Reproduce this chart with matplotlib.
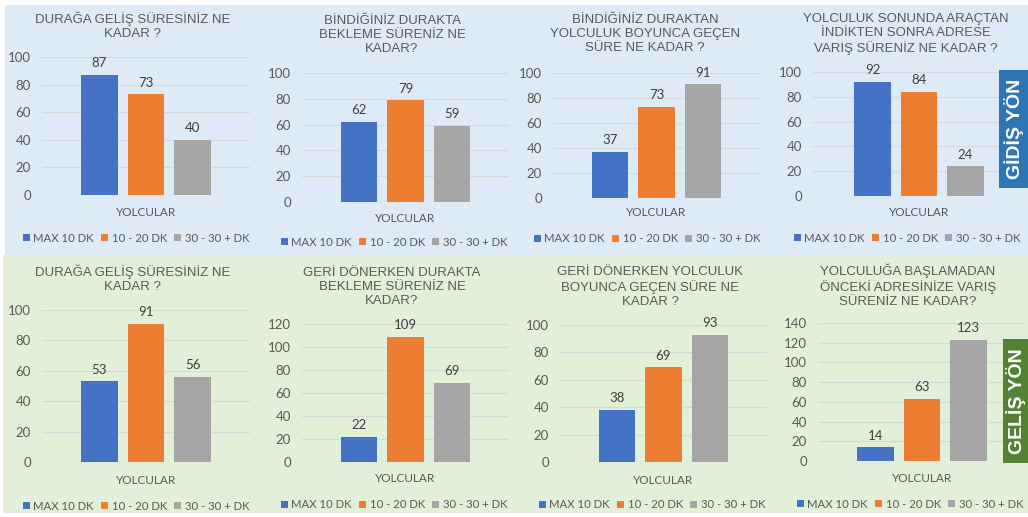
import matplotlib
matplotlib.use("Agg")
import matplotlib.pyplot as plt
from matplotlib.patches import Rectangle, Patch

W, H = 1028, 517

# ---------------- data ----------------
series_labels = ['MAX 10 DK', '10 - 20 DK', '30 - 30 + DK']
category = 'YOLCULAR'
titles = [
    'DURAĞA GELİŞ SÜRESİNİZ NE\nKADAR ?',
    'BİNDİĞİNİZ DURAKTA\nBEKLEME SÜRENİZ NE\nKADAR?',
    'BİNDİĞİNİZ DURAKTAN\nYOLCULUK BOYUNCA GEÇEN\nSÜRE NE KADAR ?',
    'YOLCULUK SONUNDA ARAÇTAN\nİNDİKTEN SONRA ADRESE\nVARIŞ SÜRENİZ NE KADAR ?',
    'DURAĞA GELİŞ SÜRESİNİZ NE\nKADAR ?',
    'GERİ DÖNERKEN DURAKTA\nBEKLEME SÜRENİZ NE\nKADAR?',
    'GERİ DÖNERKEN YOLCULUK\nBOYUNCA GEÇEN SÜRE NE\nKADAR ?',
    'YOLCULUĞA BAŞLAMADAN\nÖNCEKİ ADRESİNİZE VARIŞ\nSÜRENİZ NE KADAR?',
]
max10 = [87, 62, 37, 92, 53, 22, 38, 14]
dk10_20 = [73, 79, 73, 84, 91, 109, 69, 63]
dk30 = [40, 59, 91, 24, 56, 69, 93, 123]
y_max = [100, 100, 100, 100, 100, 120, 100, 140]
side_labels = ['GİDİŞ YÖN', 'GELİŞ YÖN']

# ---------------- layout (pixels) ----------------
rects = [(42, 250, 57, 195), (302, 509, 73, 202), (553, 760, 73, 198), (813, 1025, 72, 196),
         (42, 250, 310, 462), (302, 509, 324, 462), (560, 767, 325, 462), (818, 1026, 323, 461)]
title_pos = [(133, 25.5), (392, 35), (645, 34), (906, 34),
             (133, 279), (392, 287), (650, 287), (908, 286)]
xlabel_y = [212, 218, 213, 213, 480, 479, 480, 478]
legend_pos = [(136, 238), (394, 242), (647, 239), (907, 238),
              (136, 506), (394, 505), (652, 505), (910, 504)]

colors = ['#4472C4', '#ED7D31', '#A5A5A5']
txt = '#595959'
grid_c = '#D9D9D9'
title_font = 'Liberation Sans'
num_font = 'Lato'

fig = plt.figure(figsize=(W / 100, H / 100), dpi=100)
fig.patch.set_facecolor('white')
fig.patches.append(Rectangle((5 / W, 1 - 255 / H), (W - 5) / W, 250 / H,
                             transform=fig.transFigure, facecolor='#DEEBF7',
                             edgecolor='none', zorder=-10))
fig.patches.append(Rectangle((3 / W, 1 - 513 / H), (W - 3) / W, 258 / H,
                             transform=fig.transFigure, facecolor='#E2F0D9',
                             edgecolor='none', zorder=-10))

spacing_px = 46.5
for i in range(8):
    x0, x1, yt, yb = rects[i]
    ax = fig.add_axes([x0 / W, 1 - yb / H, (x1 - x0) / W, (yb - yt) / H])
    ax.patch.set_alpha(0)
    vals = [max10[i], dk10_20[i], dk30[i]]
    half = (x1 - x0) / 2 / spacing_px
    ax.set_xlim(-half, half)
    ax.set_ylim(0, y_max[i])
    bars = ax.bar([-1, 0, 1], vals, width=0.79, color=colors, zorder=3)
    for b, v in zip(bars, vals):
        ax.annotate(str(v), (b.get_x() + b.get_width() / 2, v), xytext=(0, 4),
                    textcoords='offset points', ha='center', va='bottom',
                    fontsize=9.5, color='#404040', family=num_font)
    ax.set_yticks(range(0, y_max[i] + 1, 20))
    ax.yaxis.grid(True, color=grid_c, lw=0.9, zorder=0)
    ax.set_axisbelow(True)
    ax.set_xticks([])
    for s in ax.spines.values():
        s.set_visible(False)
    ax.tick_params(axis='y', length=0, pad=8, labelsize=9.5, labelcolor=txt)
    for lab in ax.get_yticklabels():
        lab.set_family(num_font)
    # title
    tx, ty = title_pos[i]
    fig.text(tx / W, 1 - ty / H, titles[i], ha='center', va='center',
             fontsize=9.5, color=txt, family=title_font, linespacing=1.2)
    # category label
    fig.text((x0 + x1) / 2 / W, 1 - xlabel_y[i] / H, category, ha='center',
             va='center', fontsize=8.5, color=txt, family=num_font)
    # legend
    handles = [Patch(facecolor=c, edgecolor='none') for c in colors]
    lx, ly = legend_pos[i]
    fig.legend(handles, series_labels, loc='center',
               bbox_to_anchor=(lx / W, 1 - ly / H), ncol=3, frameon=False,
               handlelength=0.65, handleheight=0.65, handletextpad=0.3,
               columnspacing=0.6, prop={'family': num_font, 'size': 8.2},
               labelcolor=txt, borderaxespad=0, borderpad=0)

# side boxes
fig.patches.append(Rectangle((999 / W, 1 - 188 / H), 29 / W, 118 / H,
                             transform=fig.transFigure, facecolor='#2E75B6',
                             edgecolor='none', zorder=5))
fig.text(1014 / W, 1 - 129 / H, side_labels[0], rotation=90, ha='center', va='center',
         fontsize=14, fontweight='bold', color='white', family=title_font, zorder=6)
fig.patches.append(Rectangle((1003 / W, 1 - 463 / H), 25 / W, 124 / H,
                             transform=fig.transFigure, facecolor='#548235',
                             edgecolor='none', zorder=5))
fig.text(1016 / W, 1 - 401 / H, side_labels[1], rotation=90, ha='center', va='center',
         fontsize=14, fontweight='bold', color='white', family=title_font, zorder=6)

fig.savefig('out.png', dpi=100)
